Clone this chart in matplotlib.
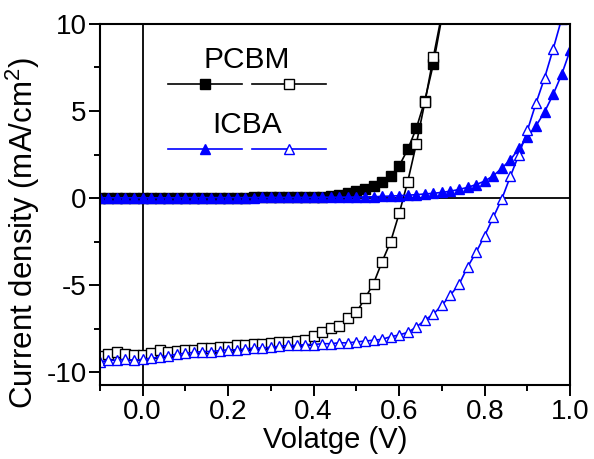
"""J-V curves of PCBM and ICBA devices, dark and illuminated."""

import matplotlib
matplotlib.use('Agg')
import matplotlib.pyplot as plt
from matplotlib.ticker import MultipleLocator

plt.rcParams['font.family'] = ['Liberation Sans', 'DejaVu Sans']
plt.rcParams['mathtext.default'] = 'regular'
plt.rcParams['axes.unicode_minus'] = False

# voltage grid of the measurement (V)
VOLT_PCBM = [-0.10, -0.08, -0.06, -0.04, -0.02, 0.00, 0.02, 0.04, 0.06, 0.08,
             0.10, 0.12, 0.14, 0.16, 0.18, 0.20, 0.22, 0.24, 0.26, 0.28,
             0.30, 0.32, 0.34, 0.36, 0.38, 0.40, 0.42, 0.44, 0.46, 0.48,
             0.50, 0.52, 0.54, 0.56, 0.58, 0.60, 0.62, 0.64, 0.66, 0.68, 0.70]
VOLT_ICBA = VOLT_PCBM + [0.72, 0.74, 0.76, 0.78, 0.80, 0.82, 0.84, 0.86, 0.88,
                         0.90, 0.92, 0.94, 0.96, 0.98, 1.00]

# current density (mA/cm2)
PCBM_DARK = [0.01, 0.01, 0.01, 0.01, 0.02, 0.02, 0.02, 0.02, 0.02, 0.02,
             0.02, 0.02, 0.03, 0.03, 0.03, 0.03, 0.03, 0.03, 0.04, 0.04,
             0.04, 0.04, 0.05, 0.05, 0.05, 0.06, 0.09, 0.14, 0.20, 0.30,
             0.40, 0.55, 0.72, 0.92, 1.25, 1.85, 2.80, 4.00, 5.60, 7.70, 10.4]
PCBM_LIGHT = [-9.05, -8.95, -8.85, -8.95, -9.00, -9.00, -8.90, -8.70, -8.85, -8.75,
              -8.70, -8.72, -8.60, -8.62, -8.52, -8.55, -8.42, -8.45, -8.38, -8.35,
              -8.30, -8.28, -8.24, -8.22, -8.12, -7.90, -7.70, -7.45, -7.35, -6.85,
              -6.55, -5.75, -4.90, -3.65, -2.50, -0.88, 0.95, 3.10, 5.50, 8.10, 10.6]
ICBA_DARK = [0.02, 0.02, 0.02, 0.02, 0.02, 0.02, 0.02, 0.02, 0.02, 0.02,
             0.03, 0.03, 0.03, 0.03, 0.03, 0.03, 0.03, 0.03, 0.03, 0.04,
             0.04, 0.04, 0.04, 0.04, 0.04, 0.05, 0.05, 0.05, 0.05, 0.06,
             0.06, 0.07, 0.08, 0.10, 0.12, 0.14, 0.17, 0.20, 0.24, 0.28, 0.33,
             0.40, 0.50, 0.62, 0.78, 0.98, 1.28, 1.72, 2.20, 2.85,
             3.50, 4.15, 4.95, 5.95, 7.10, 8.50]
ICBA_LIGHT = [-9.40, -9.30, -9.30, -9.25, -9.30, -9.25, -9.20, -9.10, -9.05, -8.95,
              -8.90, -8.85, -8.80, -8.80, -8.75, -8.70, -8.70, -8.65, -8.60, -8.60,
              -8.55, -8.50, -8.45, -8.45, -8.40, -8.40, -8.35, -8.35, -8.30, -8.30,
              -8.25, -8.20, -8.15, -8.10, -7.95, -7.85, -7.70, -7.40, -7.00, -6.65, -6.15,
              -5.55, -4.95, -3.95, -3.10, -2.15, -1.10, -0.05, 1.25, 2.50,
              3.90, 5.45, 6.90, 8.55, 10.3, 12.2]

X_TICKS = [0.0, 0.2, 0.4, 0.6, 0.8, 1.0]
Y_TICKS = [-10, -5, 0, 5, 10]

BLUE = '#0000ff'

fig = plt.figure(figsize=(5.94, 4.59), dpi=100)
ax = fig.add_axes([0.168, 0.162, 0.792, 0.786])

# zero lines
ax.axhline(0, color='k', lw=1.3, zorder=1)
ax.axvline(0, color='k', lw=1.3, zorder=1)

mk = dict(markersize=6.5, markeredgewidth=1.0, lw=1.2)
l1, = ax.plot(VOLT_PCBM, PCBM_DARK, color='k', marker='s', mfc='k', mec='k', **mk)
l2, = ax.plot(VOLT_PCBM, PCBM_LIGHT, color='k', marker='s', mfc='white', mec='k', **mk)
mk['markersize'] = 7.5
l3, = ax.plot(VOLT_ICBA, ICBA_DARK, color=BLUE, marker='^', mfc=BLUE, mec=BLUE, **mk)
l4, = ax.plot(VOLT_ICBA, ICBA_LIGHT, color=BLUE, marker='^', mfc='white', mec=BLUE, **mk)

ax.set_xlim(-0.1, 1.0)
ax.set_ylim(-10.7, 10)
ax.set_xticks(X_TICKS)
ax.set_yticks(Y_TICKS)
ax.xaxis.set_minor_locator(MultipleLocator(0.1))
ax.yaxis.set_minor_locator(MultipleLocator(2.5))
ax.tick_params(which='major', length=8, width=1.4, labelsize=20, direction='out')
ax.tick_params(which='minor', length=4.5, width=1.4, direction='out')
ax.tick_params(axis='y', pad=1.5)
ax.tick_params(axis='x', pad=2)
for s in ax.spines.values():
    s.set_linewidth(1.5)

ax.set_xlabel('Volatge (V)', fontsize=21)
ax.set_ylabel('Current density (mA/cm$^2$)', fontsize=22.5)
ax.xaxis.set_label_coords(0.5, -0.115)
ax.yaxis.set_label_coords(-0.123, 0.42)

# two stacked legends: name above the dark / light line samples
leg_kw = dict(ncol=2, frameon=False, fontsize=19, title_fontsize=21.5,
              handlelength=2.8, handletextpad=0, columnspacing=0.4,
              numpoints=1, borderpad=0, labelspacing=0, loc='center')
leg1 = ax.legend(handles=[l1, l2], labels=['', ''], title='PCBM',
                 bbox_to_anchor=(0.313, 0.866), **leg_kw)
ax.add_artist(leg1)
ax.legend(handles=[l3, l4], labels=['', ''], title='ICBA',
          bbox_to_anchor=(0.313, 0.686), **leg_kw)

plt.savefig('out.png', dpi=100)
